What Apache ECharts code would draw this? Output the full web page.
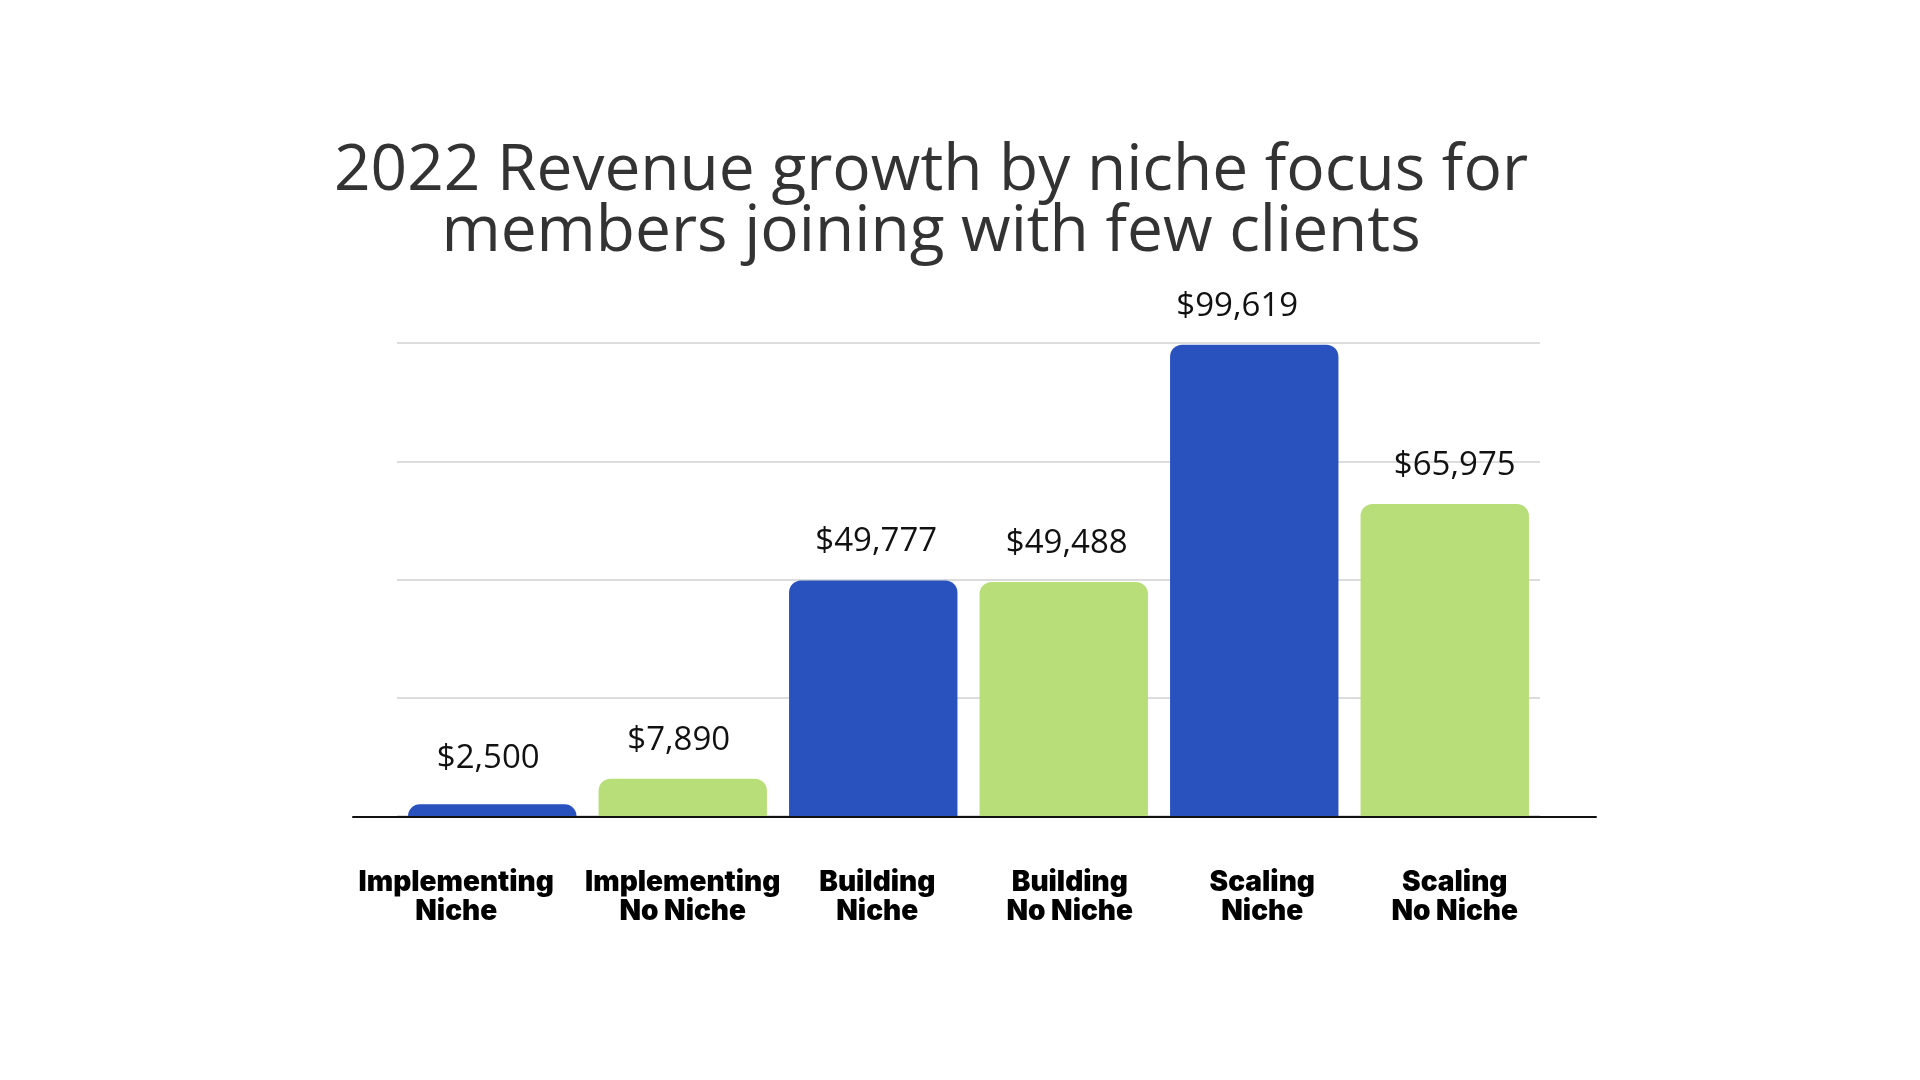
<!DOCTYPE html>
<html lang="en">
<head>
<meta charset="UTF-8">
<title>2022 Revenue growth by niche focus</title>
<script src="https://cdn.jsdelivr.net/npm/echarts@6.0.0/dist/echarts.min.js"></script>
<style>
    html, body { margin: 0; padding: 0; background: #fff; }
    #chart { width: 1920px; height: 1080px; }
</style>
</head>
<body>
<div id="chart"></div>
<script>
// data
var categories = ['Implementing\nNiche', 'Implementing\nNo Niche', 'Building\nNiche',
                  'Building\nNo Niche', 'Scaling\nNiche', 'Scaling\nNo Niche'];
var revenue = [2500, 7890, 49777, 49488, 99619, 65975];
var yMin = 0, yMax = 100000, yStep = 25000;

// styling
var BLUE = '#2a52be', GREEN = '#b8de7a';
var barColors = [BLUE, GREEN, BLUE, GREEN, BLUE, GREEN];
// the original labels are hand placed, small nudges per bar
var valueNudge = [[-4, -7], [-4, 0], [3, 0], [3, 0], [-17, 0], [10, 0]];
var catNudge = [-36, 0, 4, 6, 8, 10];

var catRich = {};
catNudge.forEach(function (s, i) {
    catRich['c' + i] = {
        fontFamily: 'Inter',
        fontWeight: 900,
        fontSize: 28,
        lineHeight: 29,
        color: '#000',
        padding: s < 0 ? [0, -2 * s, 0, 0] : [0, 0, 0, 2 * s]
    };
});

var barData = revenue.map(function (v, i) {
    return {
        value: v,
        itemStyle: { color: barColors[i] },
        label: { offset: valueNudge[i] }
    };
});

var chart = echarts.init(document.getElementById('chart'));
chart.setOption({
    backgroundColor: '#fff',
    animation: false,
    title: {
        text: '2022 Revenue growth by niche focus for\nmembers joining with few clients',
        left: 931,
        textAlign: 'center',
        top: 141,
        padding: 0,
        textStyle: {
            fontFamily: 'Open Sans',
            fontWeight: 400,
            fontSize: 64,
            lineHeight: 61,
            color: '#333'
        }
    },
    grid: [
        { left: 397, right: 380, top: 343, bottom: 264 },
        { left: 353, right: 324, top: 343, bottom: 263 }
    ],
    xAxis: [{
        type: 'category',
        data: categories,
        axisLine: { show: false },
        axisTick: { show: false },
        axisLabel: {
            margin: 52,
            interval: 0,
            formatter: function (val, idx) {
                return val.split('\n').map(function (t) {
                    return '{c' + idx + '|' + t + '}';
                }).join('\n');
            },
            rich: catRich
        }
    }, {
        gridIndex: 1,
        type: 'value',
        min: 0,
        max: 1,
        axisLine: { show: true, lineStyle: { color: '#111', width: 2 } },
        axisTick: { show: false },
        axisLabel: { show: false },
        splitLine: { show: false }
    }],
    yAxis: [{
        type: 'value',
        min: yMin,
        max: yMax,
        interval: yStep,
        axisLine: { show: false },
        axisTick: { show: false },
        axisLabel: { show: false },
        splitLine: { lineStyle: { color: '#dcdcdc', width: 2 } }
    }, {
        gridIndex: 1,
        type: 'value',
        min: 0,
        max: 1,
        show: false
    }],
    series: [{
        type: 'bar',
        data: barData,
        barCategoryGap: '11.6%',
        itemStyle: { borderRadius: [12, 12, 0, 0] },
        label: {
            show: true,
            position: 'top',
            distance: 22,
            fontFamily: 'Open Sans',
            fontSize: 33,
            color: '#111',
            formatter: function (p) {
                return '$' + p.value.toLocaleString('en-US');
            }
        }
    }]
});
</script>
</body>
</html>
